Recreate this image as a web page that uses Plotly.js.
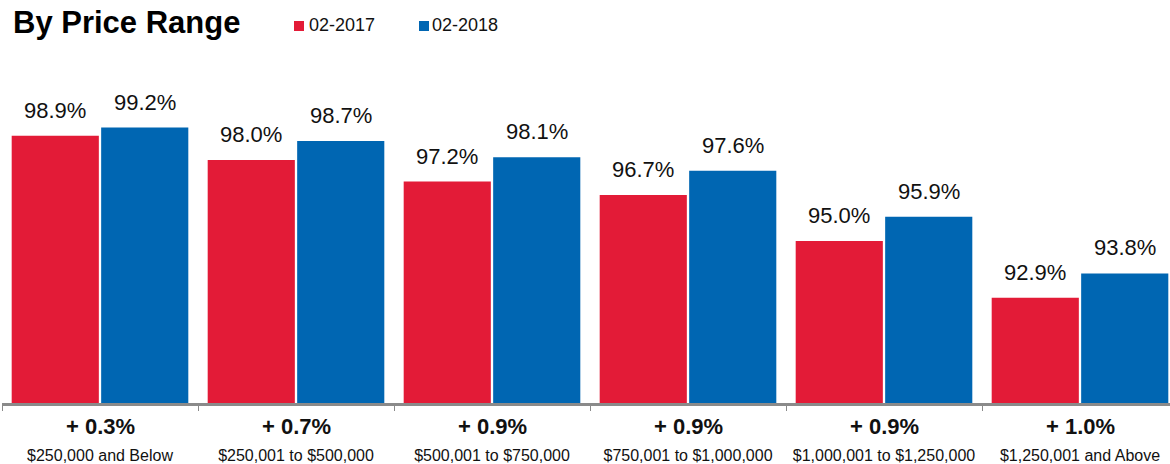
<!DOCTYPE html>
<html>
<head>
<meta charset="utf-8">
<script src="https://cdn.plot.ly/plotly-3.0.1.min.js"></script>
<style>html,body{margin:0;padding:0;background:#fff;}#chart{width:1170px;height:464px;}</style>
</head>
<body>
<div id="chart"></div>
<script>
const categories = ["$250,000 and Below","$250,001 to $500,000","$500,001 to $750,000","$750,001 to $1,000,000","$1,000,001 to $1,250,000","$1,250,001 and Above"];
const seriesNames = ["02-2017","02-2018"];
const values2017 = [98.9, 98.0, 97.2, 96.7, 95.0, 92.9];
const values2018 = [99.2, 98.7, 98.1, 97.6, 95.9, 93.8];
const changeLabels = ["+ 0.3%","+ 0.7%","+ 0.9%","+ 0.9%","+ 0.9%","+ 1.0%"];

const colors = ["#E31B37", "#0066B2"];
const FONT = "Liberation Sans, Arial, Helvetica, sans-serif";

const traces = [values2017, values2018].map((vals, k) => ({
  type: "bar",
  name: seriesNames[k],
  x: categories,
  y: vals,
  marker: {color: colors[k], line: {width: 0}},
  hoverinfo: "skip"
}));

const bargap = 0.087, bargroupgap = 0.026;
const slot = (1 - bargap) / 2;
const offsets = [-slot / 2, slot / 2];

const annotations = [];
[values2017, values2018].forEach((vals, k) => {
  vals.forEach((v, i) => {
    annotations.push({
      x: i + offsets[k], y: v, xref: "x", yref: "y",
      text: v.toFixed(1) + "%", showarrow: false,
      xanchor: "center", yanchor: "bottom", yshift: 11,
      font: {family: FONT, size: 22, color: "#111"}
    });
  });
});
changeLabels.forEach((t, i) => {
  annotations.push({
    x: i, y: 0, xref: "x", yref: "paper",
    text: "<b>" + t + "</b>", showarrow: false,
    xanchor: "center", yanchor: "middle", yshift: -23,
    font: {family: FONT, size: 22, color: "#111"}
  });
});

// manual legend
const plotL = 2, plotW = 1168, plotBottom = 403, plotH = 311;
const px = x => (x - plotL) / plotW;
const py = y => (plotBottom - y) / plotH;
const legendSq = [299, 424];
const legendTx = [307, 430];
const shapes = [];
seriesNames.forEach((n, k) => {
  shapes.push({
    type: "rect", xref: "paper", yref: "paper",
    xsizemode: "pixel", ysizemode: "pixel",
    xanchor: px(legendSq[k]), yanchor: py(26),
    x0: -5, x1: 5, y0: -5, y1: 5,
    fillcolor: colors[k], line: {width: 0}
  });
  annotations.push({
    x: px(legendTx[k]), y: py(24.5), xref: "paper", yref: "paper",
    text: n, showarrow: false, xanchor: "left", yanchor: "middle",
    font: {family: FONT, size: 18, color: "#111"}
  });
});

const layout = {
  width: 1170, height: 464,
  margin: {l: plotL, r: 0, t: 92, b: 61, pad: 0},
  paper_bgcolor: "#fff", plot_bgcolor: "#fff",
  showlegend: false,
  barmode: "group", bargap: bargap, bargroupgap: bargroupgap,
  title: {
    text: "<b>By Price Range</b>",
    xref: "container", yref: "container",
    x: 13 / 1170, xanchor: "left",
    y: 1 - 22 / 464, yanchor: "middle",
    font: {family: FONT, size: 31, color: "#000"}
  },
  xaxis: {
    type: "category",
    range: [-0.5, -0.5 + plotW / 196],
    showline: true, linecolor: "#8a8a8a", linewidth: 3,
    ticks: "outside", tickson: "boundaries", ticklen: 5, tickwidth: 1, tickcolor: "#8a8a8a",
    tickfont: {family: FONT, size: 16, color: "#111"},
    ticklabelstandoff: 36,
    showgrid: false, zeroline: false, fixedrange: true
  },
  yaxis: {
    range: [89, 89 + plotH / 27],
    visible: false, showgrid: false, zeroline: false, fixedrange: true
  },
  annotations: annotations,
  shapes: shapes
};

Plotly.newPlot("chart", traces, layout, {displayModeBar: false, staticPlot: true});
</script>
</body>
</html>
